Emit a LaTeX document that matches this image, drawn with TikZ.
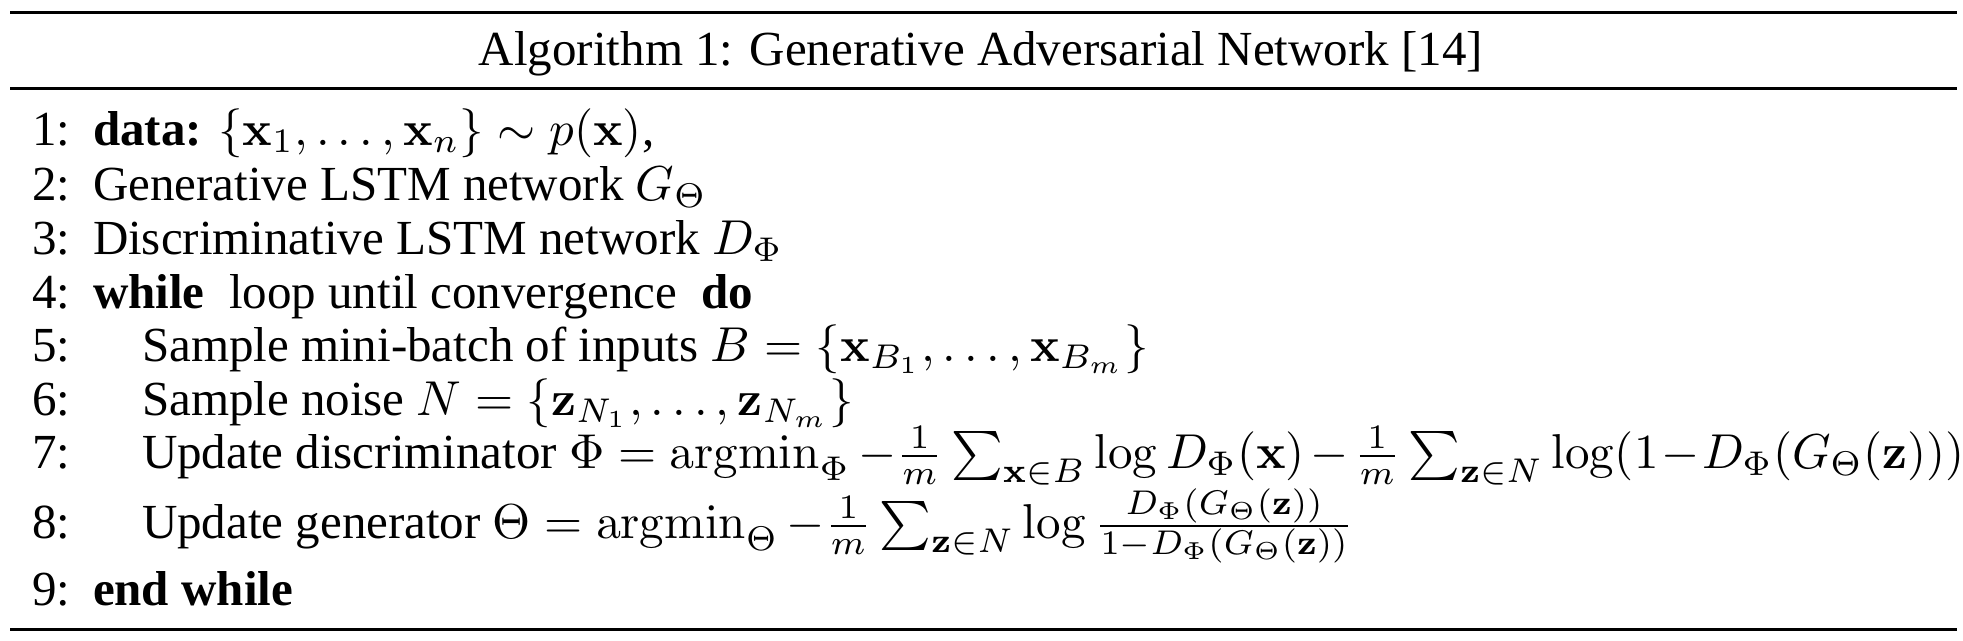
\documentclass[tikz,border=0pt]{standalone}
\usepackage{amsmath}
\usepackage[no-math]{fontspec}
\setmainfont{Liberation Serif}
\begin{document}
\begin{tikzpicture}[x=0.2041pt,y=-0.2041pt,
  linetxt/.style={anchor=base west,inner sep=0pt,outer sep=0pt,font=\fontsize{10}{12}\selectfont},
  linenum/.style={anchor=base west,inner sep=0pt,outer sep=0pt,font=\fontsize{10}{12}\selectfont},
  titletxt/.style={anchor=base,inner sep=0pt,outer sep=0pt,font=\fontsize{10}{12}\selectfont}]
\useasboundingbox (0,0) rectangle (1963,640);
% rules
\coordinate (r1a) at (10,12.5);  \coordinate (r1b) at (1957,12.5);
\coordinate (r2a) at (10,88.5);  \coordinate (r2b) at (1957,88.5);
\coordinate (r3a) at (10,629.5); \coordinate (r3b) at (1957,629.5);
\draw[line width=0.7pt] (r1a) -- (r1b);
\draw[line width=0.5pt] (r2a) -- (r2b);
\draw[line width=0.55pt] (r3a) -- (r3b);
% title
\node[titletxt] (title) at (981,65) {Algorithm 1: Generative Adversarial Network [14]};
% line numbers
\node[linenum] (n1) at (32,145) {1:};
\node[linenum] (n2) at (32,200) {2:};
\node[linenum] (n3) at (32,254) {3:};
\node[linenum] (n4) at (32,308) {4:};
\node[linenum] (n5) at (32,361) {5:};
\node[linenum] (n6) at (32,415) {6:};
\node[linenum] (n7) at (32,468) {7:};
\node[linenum] (n8) at (32,538) {8:};
\node[linenum] (n9) at (32,605) {9:};
% lines
\node[linetxt] (l1) at (93,145) {\textbf{data:} $\{\mathbf{x}_1,\ldots,\mathbf{x}_n\}\sim p(\mathbf{x})$,};
\node[linetxt] (l2) at (93,200) {Generative LSTM network $G_\Theta$};
\node[linetxt] (l3) at (93,254) {Discriminative LSTM network $D_\Phi$};
\node[linetxt] (l4) at (93,308) {\textbf{while}\ \ loop until convergence\ \ \textbf{do}};
\node[linetxt] (l5) at (142,361) {Sample mini-batch of inputs $B=\{\mathbf{x}_{B_1},\ldots,\mathbf{x}_{B_m}\}$};
\node[linetxt] (l6) at (142,415) {Sample noise $N=\{\mathbf{z}_{N_1},\ldots,\mathbf{z}_{N_m}\}$};
\node[linetxt] (l7) at (142,468) {Update discriminator $\Phi=\operatorname{argmin}_\Phi -\frac{1}{m}\sum_{\mathbf{x}\in B}\log D_\Phi(\mathbf{x})\mskip2mu{-}\mskip2mu\frac{1}{m}\sum_{\mathbf{z}\in N}\log(1\mskip1mu{-}\mskip1mu D_\Phi(G_\Theta(\mathbf{z})))$};
\node[linetxt] (l8) at (142,538) {Update generator $\Theta=\operatorname{argmin}_\Theta -\frac{1}{m}\sum_{\mathbf{z}\in N}\log\frac{D_\Phi(G_\Theta(\mathbf{z}))}{1-D_\Phi(G_\Theta(\mathbf{z}))}$};
\node[linetxt] (l9) at (93,605) {\textbf{end while}};
\end{tikzpicture}
\end{document}
